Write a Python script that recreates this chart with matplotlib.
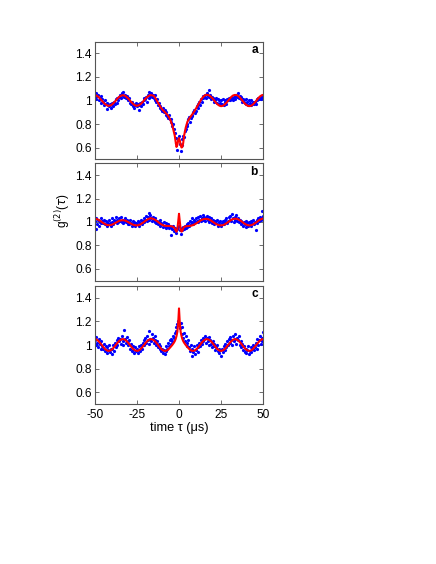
import numpy as np
import matplotlib
matplotlib.use("Agg")
import matplotlib.pyplot as plt

plt.rcParams['font.family'] = ['Liberation Sans', 'DejaVu Sans']

# ---------------- data ----------------
dot_tau = np.arange(-50, 50.01, 0.5)

dots_a = [
    1.03, 1.06, 1.01, 1.04, 1.05, 1.00, 1.02, 1.04, 0.98, 1.01,
    0.99, 0.96, 1.00, 0.97, 0.93, 0.98, 0.96, 0.95, 0.97, 0.94,
    0.96, 0.98, 0.95, 0.99, 0.97, 1.01, 0.98, 1.02, 1.00, 1.03,
    1.05, 1.02, 1.06, 1.04, 1.07, 1.03, 1.05, 1.02, 1.04, 1.01,
    1.00, 1.02, 0.98, 0.97, 0.99, 0.95, 0.97, 0.94, 0.96, 0.98,
    0.95, 0.97, 0.92, 0.96, 0.98, 0.95, 0.99, 0.97, 1.00, 1.02,
    1.01, 1.03, 0.99, 1.05, 1.02, 1.07, 1.04, 1.06, 1.03, 1.05,
    1.02, 1.05, 1.00, 0.99, 1.01, 0.96, 0.98, 0.94, 0.95, 0.93,
    0.91, 0.94, 0.90, 0.92, 0.88, 0.90, 0.87, 0.85, 0.88, 0.84,
    0.82, 0.84, 0.78, 0.80, 0.76, 0.72, 0.68, 0.64, 0.58, 0.66,
    0.70, 0.63, 0.57, 0.62, 0.67, 0.70, 0.69, 0.74, 0.76, 0.80,
    0.78, 0.84, 0.86, 0.82, 0.85, 0.88, 0.87, 0.90, 0.92, 0.89,
    0.91, 0.95, 0.94, 0.97, 0.99, 0.96, 1.01, 0.99, 1.02, 1.04,
    1.03, 1.05, 1.02, 1.06, 1.04, 1.09, 1.03, 1.05, 1.01, 1.03,
    1.02, 0.99, 1.01, 1.00, 1.02, 0.98, 1.01, 0.97, 1.00, 0.98,
    1.00, 0.97, 1.01, 0.96, 0.99, 1.00, 0.97, 1.01, 1.00, 1.02,
    1.00, 1.02, 1.01, 1.03, 1.00, 1.02, 1.04, 1.01, 1.05, 1.03,
    1.06, 1.02, 1.04, 1.01, 1.03, 0.99, 1.01, 1.00, 0.98, 1.01,
    0.97, 0.99, 0.96, 1.00, 0.98, 0.96, 1.00, 0.97, 0.99, 0.97,
    0.99, 0.97, 1.01, 1.00, 1.02, 1.01, 1.03, 1.01, 1.04, 1.02,
    1.05,
]

dots_b = [
    1.01, 0.94, 1.03, 0.98, 1.02, 0.97, 1.00, 0.99, 1.03, 1.01,
    0.99, 1.02, 0.98, 1.01, 0.97, 1.00, 0.98, 1.02, 0.99, 0.97,
    1.00, 1.03, 0.98, 1.02, 1.01, 1.04, 0.99, 1.02, 1.00, 1.03,
    1.01, 1.04, 1.00, 1.02, 0.99, 1.01, 1.03, 1.00, 1.02, 0.98,
    1.00, 0.98, 1.02, 0.99, 0.97, 1.01, 0.98, 1.00, 0.97, 0.99,
    0.98, 1.01, 0.97, 1.00, 0.99, 1.02, 0.98, 1.01, 1.03, 1.00,
    1.02, 1.05, 1.01, 1.04, 1.08, 1.02, 1.06, 1.03, 1.01, 1.04,
    1.02, 1.00, 1.03, 0.99, 1.01, 0.98, 1.00, 1.02, 0.97, 0.99,
    0.98, 0.96, 1.00, 0.97, 0.95, 0.99, 0.96, 0.98, 0.95, 0.97,
    0.96, 0.89, 0.94, 0.97, 0.92, 0.95, 0.93, 0.91, 0.94, 0.96,
    0.97, 0.93, 0.90, 0.95, 0.93, 0.96, 0.94, 0.97, 0.95, 0.98,
    0.96, 0.99, 0.97, 1.01, 0.98, 1.03, 1.00, 0.98, 1.02, 1.00,
    1.03, 1.01, 1.04, 1.00, 1.02, 1.05, 1.01, 1.03, 1.06, 1.02,
    1.04, 1.01, 1.03, 1.05, 1.02, 1.00, 1.04, 1.01, 1.03, 0.99,
    1.02, 1.00, 0.98, 1.01, 0.99, 1.02, 0.97, 1.00, 0.98, 1.01,
    0.97, 0.99, 1.01, 0.98, 1.02, 1.00, 1.03, 0.99, 1.01, 1.04,
    1.02, 1.05, 1.01, 1.07, 1.03, 1.00, 1.04, 1.02, 1.06, 1.01,
    1.03, 1.00, 1.02, 0.98, 1.01, 0.99, 0.97, 1.00, 0.98, 1.01,
    0.96, 0.99, 0.97, 1.00, 0.98, 1.01, 0.97, 0.99, 1.02, 0.98,
    1.00, 0.93, 1.02, 0.99, 1.03, 1.01, 1.04, 1.02, 1.09, 1.03,
    1.05,
]

dots_c = [
    1.04, 1.00, 1.07, 1.02, 0.98, 1.05, 1.01, 0.97, 1.03, 0.99,
    0.97, 1.01, 0.95, 0.99, 0.93, 0.98, 0.96, 1.00, 0.94, 0.97,
    0.92, 0.97, 1.00, 0.95, 1.02, 0.98, 1.04, 1.00, 1.06, 1.03,
    1.05, 1.01, 1.08, 1.03, 1.00, 1.13, 1.05, 1.02, 1.07, 1.03,
    1.00, 1.04, 0.97, 1.01, 0.95, 0.99, 0.96, 0.93, 0.98, 0.95,
    0.97, 0.93, 0.96, 0.99, 0.95, 1.00, 0.97, 1.02, 1.00, 1.04,
    1.06, 1.02, 1.08, 1.04, 1.01, 1.12, 1.05, 1.03, 1.09, 1.06,
    1.02, 1.08, 1.04, 1.00, 1.03, 0.98, 1.01, 0.97, 0.99, 0.95,
    0.97, 0.93, 0.96, 0.92, 0.95, 0.99, 0.97, 1.02, 0.99, 1.04,
    1.01, 1.05, 1.03, 1.08, 1.06, 1.10, 1.15, 1.12, 1.18, 1.20,
    1.17, 1.14, 1.19, 1.09, 1.15, 1.06, 1.10, 1.03, 1.08, 1.02,
    0.99, 1.04, 0.98, 0.95, 1.00, 0.91, 0.97, 0.94, 0.99, 0.92,
    0.96, 1.00, 0.94, 0.98, 1.02, 0.99, 1.04, 1.01, 1.06, 1.03,
    1.05, 1.08, 1.02, 1.06, 1.03, 1.00, 1.07, 1.04, 1.01, 0.98,
    1.03, 0.99, 1.01, 0.96, 0.98, 1.00, 0.95, 0.97, 0.93, 0.96,
    0.91, 0.97, 0.94, 0.99, 0.96, 1.01, 0.98, 1.03, 1.00, 1.05,
    1.02, 1.07, 1.04, 1.00, 1.08, 1.03, 1.09, 1.05, 1.01, 1.06,
    1.04, 1.08, 1.00, 1.03, 0.98, 1.01, 0.96, 0.99, 0.94, 0.97,
    0.93, 0.96, 0.99, 0.92, 0.95, 0.98, 0.94, 0.97, 1.00, 0.96,
    0.98, 1.02, 0.97, 1.05, 1.00, 1.04, 1.08, 1.01, 1.06, 1.03,
    1.11,
]

# fit curve sampling (1 us, refined to 0.5 us around zero)
fit_tau = np.concatenate([np.arange(-50, -3.5, 1.0),
                          np.arange(-3, 3.01, 0.5),
                          np.arange(4, 50.01, 1.0)])

fit_a = [
    1.045, 1.042, 1.033, 1.019, 1.003, 0.986, 0.971, 0.961, 0.955, 0.956,
    0.963, 0.976, 0.991, 1.008, 1.024, 1.036, 1.043, 1.045, 1.040, 1.029,
    1.015, 0.998, 0.982, 0.968, 0.958, 0.955, 0.958, 0.967, 0.980, 0.996,
    1.013, 1.028, 1.039, 1.045, 1.044, 1.040, 1.020, 0.995, 0.970, 0.945,
    0.925, 0.910, 0.895, 0.880, 0.860, 0.830, 0.790,
    0.730, 0.700, 0.650, 0.605, 0.620, 0.660, 0.680, 0.660, 0.620, 0.600,
    0.605, 0.640, 0.700,
    0.770, 0.820, 0.845, 0.865, 0.885, 0.905, 0.930, 0.955, 0.980, 1.005,
    1.025, 1.040, 1.048, 1.048, 1.042, 1.031, 1.016, 0.998, 0.980, 0.966,
    0.956, 0.952, 0.955, 0.964, 0.979, 0.996, 1.014, 1.030, 1.042, 1.047,
    1.047, 1.040, 1.027, 1.010, 0.992, 0.975, 0.962, 0.954, 0.952, 0.957,
    0.968, 0.984, 1.001, 1.019, 1.034, 1.044, 1.048,
]

fit_b = [
    1.028, 1.026, 1.020, 1.012, 1.002, 0.992, 0.983, 0.976, 0.973, 0.973,
    0.976, 0.982, 0.990, 0.998, 1.006, 1.012, 1.015, 1.015, 1.012, 1.006,
    0.998, 0.990, 0.982, 0.976, 0.972, 0.971, 0.973, 0.979, 0.988, 0.998,
    1.009, 1.019, 1.027, 1.031, 1.030, 1.025, 1.017, 1.007, 0.996, 0.985,
    0.976, 0.970, 0.967, 0.966, 0.966, 0.965, 0.962,
    0.955, 0.945, 0.928, 0.918, 0.935, 1.000, 1.070, 1.000, 0.935, 0.918,
    0.925, 0.945, 0.958,
    0.963, 0.965, 0.966, 0.968, 0.972, 0.978, 0.986, 0.996, 1.006, 1.015,
    1.022, 1.026, 1.027, 1.025, 1.020, 1.012, 1.002, 0.992, 0.983, 0.976,
    0.972, 0.971, 0.973, 0.979, 0.988, 0.998, 1.009, 1.018, 1.025, 1.028,
    1.028, 1.024, 1.016, 1.006, 0.995, 0.985, 0.977, 0.972, 0.971, 0.974,
    0.980, 0.989, 0.999, 1.010, 1.019, 1.026, 1.030,
]

fit_c = [
    1.050, 1.047, 1.037, 1.021, 1.003, 0.985, 0.968, 0.956, 0.950, 0.952,
    0.959, 0.973, 0.990, 1.009, 1.026, 1.040, 1.048, 1.050, 1.044, 1.032,
    1.016, 0.998, 0.980, 0.964, 0.954, 0.950, 0.953, 0.963, 0.978, 0.996,
    1.014, 1.031, 1.043, 1.049, 1.049, 1.041, 1.028, 1.011, 0.992, 0.974,
    0.960, 0.952, 0.950, 0.955, 0.967, 0.983, 1.000,
    1.020, 1.033, 1.050, 1.075, 1.110, 1.180, 1.310, 1.180, 1.110, 1.075,
    1.050, 1.033, 1.020,
    1.000, 0.983, 0.967, 0.955, 0.950, 0.952, 0.960, 0.974, 0.992, 1.011,
    1.028, 1.041, 1.049, 1.049, 1.043, 1.031, 1.014, 0.996, 0.978, 0.963,
    0.953, 0.950, 0.954, 0.964, 0.980, 0.998, 1.016, 1.032, 1.044, 1.050,
    1.048, 1.040, 1.026, 1.009, 0.990, 0.973, 0.959, 0.952, 0.950, 0.956,
    0.968, 0.985, 1.003, 1.021, 1.037, 1.047, 1.050,
]

panel_labels = ['a', 'b', 'c']
xticks = [-50, -25, 0, 25, 50]
xticklabels = ['-50', '-25', '0', '25', '50']
yticks = [0.6, 0.8, 1.0, 1.2, 1.4]
yticklabels = ['0.6', '0.8', '1', '1.2', '1.4']

# ---------------- figure ----------------
W, H = 436, 564
fig = plt.figure(figsize=(W / 100, H / 100), dpi=100)

left = 94.7 / W
width = 168.6 / W
boxes = [(41.7, 159.3), (163.3, 280.7), (286.0, 404.0)]

all_dots = [dots_a, dots_b, dots_c]
all_fits = [fit_a, fit_b, fit_c]
fs = 8.6

for i, (top, bot) in enumerate(boxes):
    ax = fig.add_axes([left, 1 - bot / H, width, (bot - top) / H])
    ax.plot(dot_tau, all_dots[i], linestyle='none', marker='o',
            markersize=2.3, color='#0000ff', markeredgewidth=0)
    ax.plot(fit_tau, all_fits[i], color='#ff0000', linewidth=1.5)
    ax.set_xlim(-50, 50)
    ax.set_ylim(0.5, 1.5)
    ax.set_xticks(xticks)
    ax.set_yticks(yticks)
    ax.set_yticklabels(yticklabels, fontsize=fs)
    if i == 2:
        ax.set_xticklabels(xticklabels, fontsize=fs)
        ax.set_xlabel('time τ (μs)', fontsize=9.2, labelpad=0.5)
    else:
        ax.set_xticklabels([])
    if i == 1:
        ax.set_ylabel(r'g$^{(2)}$($\tau$)', fontsize=fs)
        ax.yaxis.set_label_coords(-0.135, 0.6)
    ax.tick_params(direction='in', top=True, right=True, length=3.2,
                   width=0.5, color='#333333')
    ax.tick_params(axis='y', pad=2)
    ax.tick_params(axis='x', pad=3.5)
    for sp in ax.spines.values():
        sp.set_linewidth(0.8)
        sp.set_color('#555555')
    ax.text(0.9686, 0.929, panel_labels[i], transform=ax.transAxes,
            ha='right', va='center', fontsize=fs, fontweight='bold')

fig.savefig('out.png', dpi=100)
